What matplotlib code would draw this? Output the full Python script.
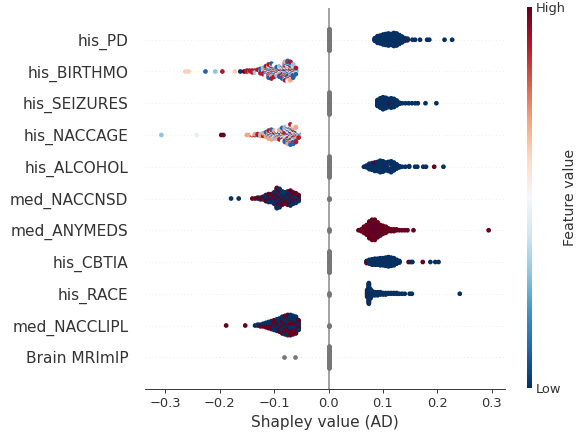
import math

import numpy as np
import matplotlib
matplotlib.use("Agg")
import matplotlib.pyplot as plt
from matplotlib.cm import ScalarMappable
from matplotlib.colors import Normalize


# features from top row to bottom row
features = ["his_PD", "his_BIRTHMO", "his_SEIZURES", "his_NACCAGE", "his_ALCOHOL",
            "med_NACCNSD", "med_ANYMEDS", "his_CBTIA", "his_RACE", "med_NACCLIPL",
            "Brain MRImIP"]

# each row: {feature value (0 = low, 1 = high, None = missing): [(shap value, count), ...]}
his_pd = {
    0.0: [(0.085, 6), (0.090, 14), (0.095, 16), (0.100, 20), (0.105, 22), (0.110, 24),
          (0.115, 22), (0.120, 26), (0.125, 24), (0.130, 18), (0.135, 12), (0.140, 6),
          (0.145, 3), (0.154, 1), (0.159, 1), (0.168, 1), (0.181, 1), (0.185, 1),
          (0.213, 1), (0.227, 1)],
    1.0: [(0.145, 1)],
    None: [(0.0, 42)],
}

his_birthmo = {
    0.0: [(-0.162, 1)],
    0.1: [(-0.226, 1), (-0.140, 1), (-0.130, 1), (-0.125, 2), (-0.120, 2), (-0.115, 3),
          (-0.110, 4), (-0.105, 4), (-0.100, 4), (-0.095, 3), (-0.090, 3), (-0.085, 5),
          (-0.080, 6), (-0.075, 6), (-0.070, 6), (-0.065, 5), (-0.060, 3)],
    0.3: [(-0.208, 1), (-0.135, 1), (-0.125, 1), (-0.120, 2), (-0.115, 2), (-0.110, 3),
          (-0.105, 3), (-0.100, 2), (-0.095, 2), (-0.090, 3), (-0.085, 3), (-0.080, 4),
          (-0.075, 4), (-0.070, 4), (-0.065, 3), (-0.060, 2)],
    0.5: [(-0.130, 1), (-0.120, 1), (-0.115, 2), (-0.110, 2), (-0.105, 3), (-0.100, 2),
          (-0.095, 2), (-0.090, 2), (-0.085, 3), (-0.080, 3), (-0.075, 4), (-0.070, 3),
          (-0.065, 2), (-0.060, 1)],
    0.62: [(-0.263, 1), (-0.257, 1), (-0.172, 1)],
    0.7: [(-0.145, 1), (-0.135, 1), (-0.125, 1), (-0.120, 1), (-0.115, 2), (-0.110, 3),
          (-0.105, 4), (-0.100, 3), (-0.095, 2), (-0.090, 2), (-0.085, 3), (-0.080, 4),
          (-0.075, 5), (-0.070, 4), (-0.065, 3), (-0.060, 1)],
    0.9: [(-0.195, 1), (-0.150, 2), (-0.145, 1), (-0.140, 2), (-0.135, 1), (-0.130, 2),
          (-0.125, 2), (-0.120, 2), (-0.115, 3), (-0.110, 4), (-0.105, 4), (-0.100, 3),
          (-0.095, 2), (-0.090, 3), (-0.085, 4), (-0.080, 5), (-0.075, 5), (-0.070, 5),
          (-0.065, 3), (-0.060, 1)],
    1.0: [(-0.155, 1)],
}

his_seizures = {
    0.0: [(0.090, 12), (0.095, 18), (0.100, 22), (0.105, 20), (0.110, 16), (0.115, 18),
          (0.120, 16), (0.125, 10), (0.130, 3), (0.135, 1), (0.141, 1), (0.147, 1),
          (0.153, 1), (0.159, 1), (0.164, 1), (0.178, 1), (0.198, 1)],
    1.0: [(0.100, 1), (0.112, 1)],
    None: [(0.0, 40)],
}

his_naccage = {
    0.1: [(-0.130, 1), (-0.120, 1), (-0.115, 1), (-0.110, 2), (-0.105, 3), (-0.100, 2),
          (-0.095, 2), (-0.090, 3), (-0.085, 3), (-0.080, 4), (-0.075, 5), (-0.070, 5),
          (-0.065, 5), (-0.060, 4), (-0.055, 2)],
    0.3: [(-0.307, 1), (-0.125, 1), (-0.115, 1), (-0.110, 2), (-0.105, 2), (-0.100, 2),
          (-0.095, 2), (-0.090, 2), (-0.085, 3), (-0.080, 3), (-0.075, 4), (-0.070, 4),
          (-0.065, 4), (-0.060, 3), (-0.055, 1)],
    0.45: [(-0.242, 1)],
    0.5: [(-0.140, 1), (-0.120, 1), (-0.115, 1), (-0.110, 2), (-0.105, 2), (-0.100, 2),
          (-0.095, 2), (-0.090, 2), (-0.085, 3), (-0.080, 3), (-0.075, 4), (-0.070, 5),
          (-0.065, 4), (-0.060, 3), (-0.055, 2)],
    0.7: [(-0.150, 1), (-0.145, 1), (-0.135, 1), (-0.125, 1), (-0.120, 1), (-0.115, 2),
          (-0.110, 2), (-0.105, 3), (-0.100, 2), (-0.095, 2), (-0.090, 3), (-0.085, 4),
          (-0.080, 4), (-0.075, 5), (-0.070, 5), (-0.065, 5), (-0.060, 4), (-0.055, 2)],
    0.9: [(-0.140, 1), (-0.135, 1), (-0.130, 1), (-0.125, 1), (-0.120, 1), (-0.115, 1),
          (-0.110, 2), (-0.105, 2), (-0.100, 2), (-0.095, 2), (-0.090, 2), (-0.085, 3),
          (-0.080, 4), (-0.075, 4), (-0.070, 5), (-0.065, 4), (-0.060, 4), (-0.055, 1)],
    1.0: [(-0.197, 1), (-0.193, 1)],
}

his_alcohol = {
    0.0: [(0.065, 1), (0.070, 4), (0.075, 10), (0.080, 12), (0.085, 14), (0.090, 16),
          (0.095, 20), (0.100, 18), (0.105, 14), (0.110, 16), (0.115, 18), (0.120, 14),
          (0.125, 8), (0.130, 3), (0.135, 1), (0.141, 1), (0.148, 2), (0.159, 1),
          (0.163, 1), (0.174, 1), (0.179, 1), (0.211, 1)],
    0.5: [(0.115, 1)],
    1.0: [(0.085, 1), (0.194, 1)],
    None: [(0.0, 36)],
}

med_naccnsd = {
    0.0: [(-0.179, 1), (-0.165, 1), (-0.130, 1), (-0.125, 1), (-0.120, 2), (-0.115, 5),
          (-0.110, 6), (-0.105, 6), (-0.100, 8), (-0.095, 14), (-0.090, 13), (-0.085, 10),
          (-0.080, 8), (-0.075, 10), (-0.070, 11), (-0.065, 8), (-0.060, 7), (-0.055, 5)],
    1.0: [(-0.140, 1), (-0.135, 1), (-0.130, 1), (-0.125, 2), (-0.120, 2), (-0.115, 3),
          (-0.110, 4), (-0.105, 4), (-0.100, 6), (-0.095, 10), (-0.090, 9), (-0.085, 6),
          (-0.080, 6), (-0.075, 6), (-0.070, 7), (-0.065, 6), (-0.060, 5), (-0.055, 3)],
    None: [(0.0, 3)],
}

med_anymeds = {
    1.0: [(0.055, 1), (0.060, 3), (0.065, 8), (0.070, 12), (0.075, 20), (0.080, 24),
          (0.085, 22), (0.090, 18), (0.095, 12), (0.100, 10), (0.105, 8), (0.110, 4),
          (0.115, 3), (0.120, 3), (0.125, 2), (0.130, 1), (0.135, 1), (0.140, 1),
          (0.145, 1), (0.156, 1), (0.294, 1)],
    0.0: [(0.085, 2), (0.095, 1)],
    None: [(0.0, 3)],
}

his_cbtia = {
    0.0: [(0.070, 4), (0.075, 8), (0.080, 10), (0.085, 12), (0.090, 12), (0.095, 14),
          (0.100, 14), (0.105, 16), (0.110, 18), (0.115, 16), (0.120, 14), (0.125, 8),
          (0.130, 4), (0.151, 1), (0.154, 1), (0.187, 1), (0.196, 1), (0.202, 1)],
    1.0: [(0.070, 1), (0.080, 1), (0.147, 1), (0.173, 1)],
    None: [(0.0, 40)],
}

his_race = {
    0.0: [(0.071, 8), (0.074, 24), (0.077, 12), (0.081, 6), (0.085, 5), (0.090, 5),
          (0.095, 4), (0.100, 3), (0.105, 3), (0.110, 2), (0.115, 2), (0.120, 2),
          (0.125, 2), (0.130, 1), (0.135, 1), (0.140, 1), (0.149, 1), (0.153, 1),
          (0.241, 1)],
    1.0: [(0.071, 2), (0.074, 4), (0.077, 1)],
    None: [(0.0, 3)],
}

med_nacclipl = {
    0.0: [(-0.135, 1), (-0.130, 1), (-0.125, 1), (-0.120, 2), (-0.115, 3), (-0.110, 4),
          (-0.105, 5), (-0.100, 6), (-0.095, 8), (-0.090, 9), (-0.085, 11), (-0.080, 12),
          (-0.075, 13), (-0.070, 13), (-0.065, 12), (-0.060, 11), (-0.055, 7)],
    1.0: [(-0.188, 1), (-0.153, 1), (-0.130, 1), (-0.125, 2), (-0.120, 2), (-0.115, 3),
          (-0.110, 4), (-0.105, 5), (-0.100, 6), (-0.095, 6), (-0.090, 7), (-0.085, 9),
          (-0.080, 10), (-0.075, 11), (-0.070, 11), (-0.065, 10), (-0.060, 9), (-0.055, 5)],
    None: [(0.0, 3)],
}

brain_mrimip = {
    None: [(0.0, 40), (-0.081, 1), (-0.0625, 1)],
}

rows = [his_pd, his_birthmo, his_seizures, his_naccage, his_alcohol, med_naccnsd,
        med_anymeds, his_cbtia, his_race, med_nacclipl, brain_mrimip]


def swarm(groups, row_height=0.4):
    # stack the points of each shap value up and down around the row line;
    # the feature values are spread through each stack with a shifting phase
    # so neighbouring stacks don't line up into stripes
    cols = {}
    for fv, pts in groups.items():
        for x, n in pts:
            cols.setdefault(x, []).append((fv, n))
    xs, ys, fvs = [], [], []
    for c, x in enumerate(sorted(cols)):
        order = []
        for k, (fv, n) in enumerate(cols[x]):
            phase = (0.618034 * (c + 1) * (k + 1)) % 1.0
            order += [(((i + 0.5) / n + phase) % 1.0, k, fv) for i in range(n)]
        order.sort(key=lambda t: (t[0], t[1]))
        for layer, (_, _, fv) in enumerate(order):
            xs.append(x)
            ys.append(math.ceil(layer / 2) * ((layer % 2) * 2 - 1))
            fvs.append(fv)
    ys = np.array(ys, dtype=float)
    ys *= 0.9 * (row_height / np.max(ys + 1))
    return np.array(xs), ys, fvs


axis_color = "#333333"
cmap = plt.get_cmap("RdBu_r")
norm = Normalize(0, 1)

fig = plt.figure(figsize=(580 / 85, 432 / 85), dpi=85)
ax = fig.add_axes([0.25, 0.0995, 0.6207, 0.882])

n_rows = len(rows)
for i, groups in enumerate(rows):
    pos = n_rows - 1 - i
    ax.axhline(y=pos, color="#cccccc", lw=0.5, dashes=(1, 5), zorder=-1)
    xs, ys, fvs = swarm(groups)
    missing = np.array([f is None for f in fvs])
    vals = np.array([0.0 if f is None else f for f in fvs])
    ax.scatter(xs[missing], pos + ys[missing], color="#777777", s=16, lw=0, zorder=3)
    ax.scatter(xs[~missing], pos + ys[~missing], c=vals[~missing], cmap=cmap, norm=norm,
               s=16, lw=0, zorder=3)

ax.axvline(x=0, color="#999999", zorder=-1)

ax.set_yticks(range(n_rows))
ax.set_yticklabels(features[::-1], fontsize=13)
ax.set_ylim(-1, n_rows)
ax.yaxis.set_ticks_position("none")
ax.xaxis.set_ticks_position("bottom")
for side in ["right", "top", "left"]:
    ax.spines[side].set_visible(False)
ax.spines["bottom"].set_color(axis_color)
ax.tick_params(color=axis_color, labelcolor=axis_color)
ax.tick_params("y", pad=10.5)
ax.tick_params("x", labelsize=11)
ax.set_xlabel("Shapley value (AD)", fontsize=13, color=axis_color)

# colour bar for the feature value
cax = fig.add_axes([0.908, 0.1019, 0.0091, 0.8826])
cb = fig.colorbar(ScalarMappable(norm=norm, cmap=cmap), cax=cax, ticks=[0, 1])
cb.set_ticklabels(["Low", "High"])
cb.set_label("Feature value", size=12, labelpad=-3, color=axis_color)
cb.ax.tick_params(labelsize=11, length=0, labelcolor=axis_color)
cb.outline.set_visible(False)

fig.savefig("out.png", dpi=85)
